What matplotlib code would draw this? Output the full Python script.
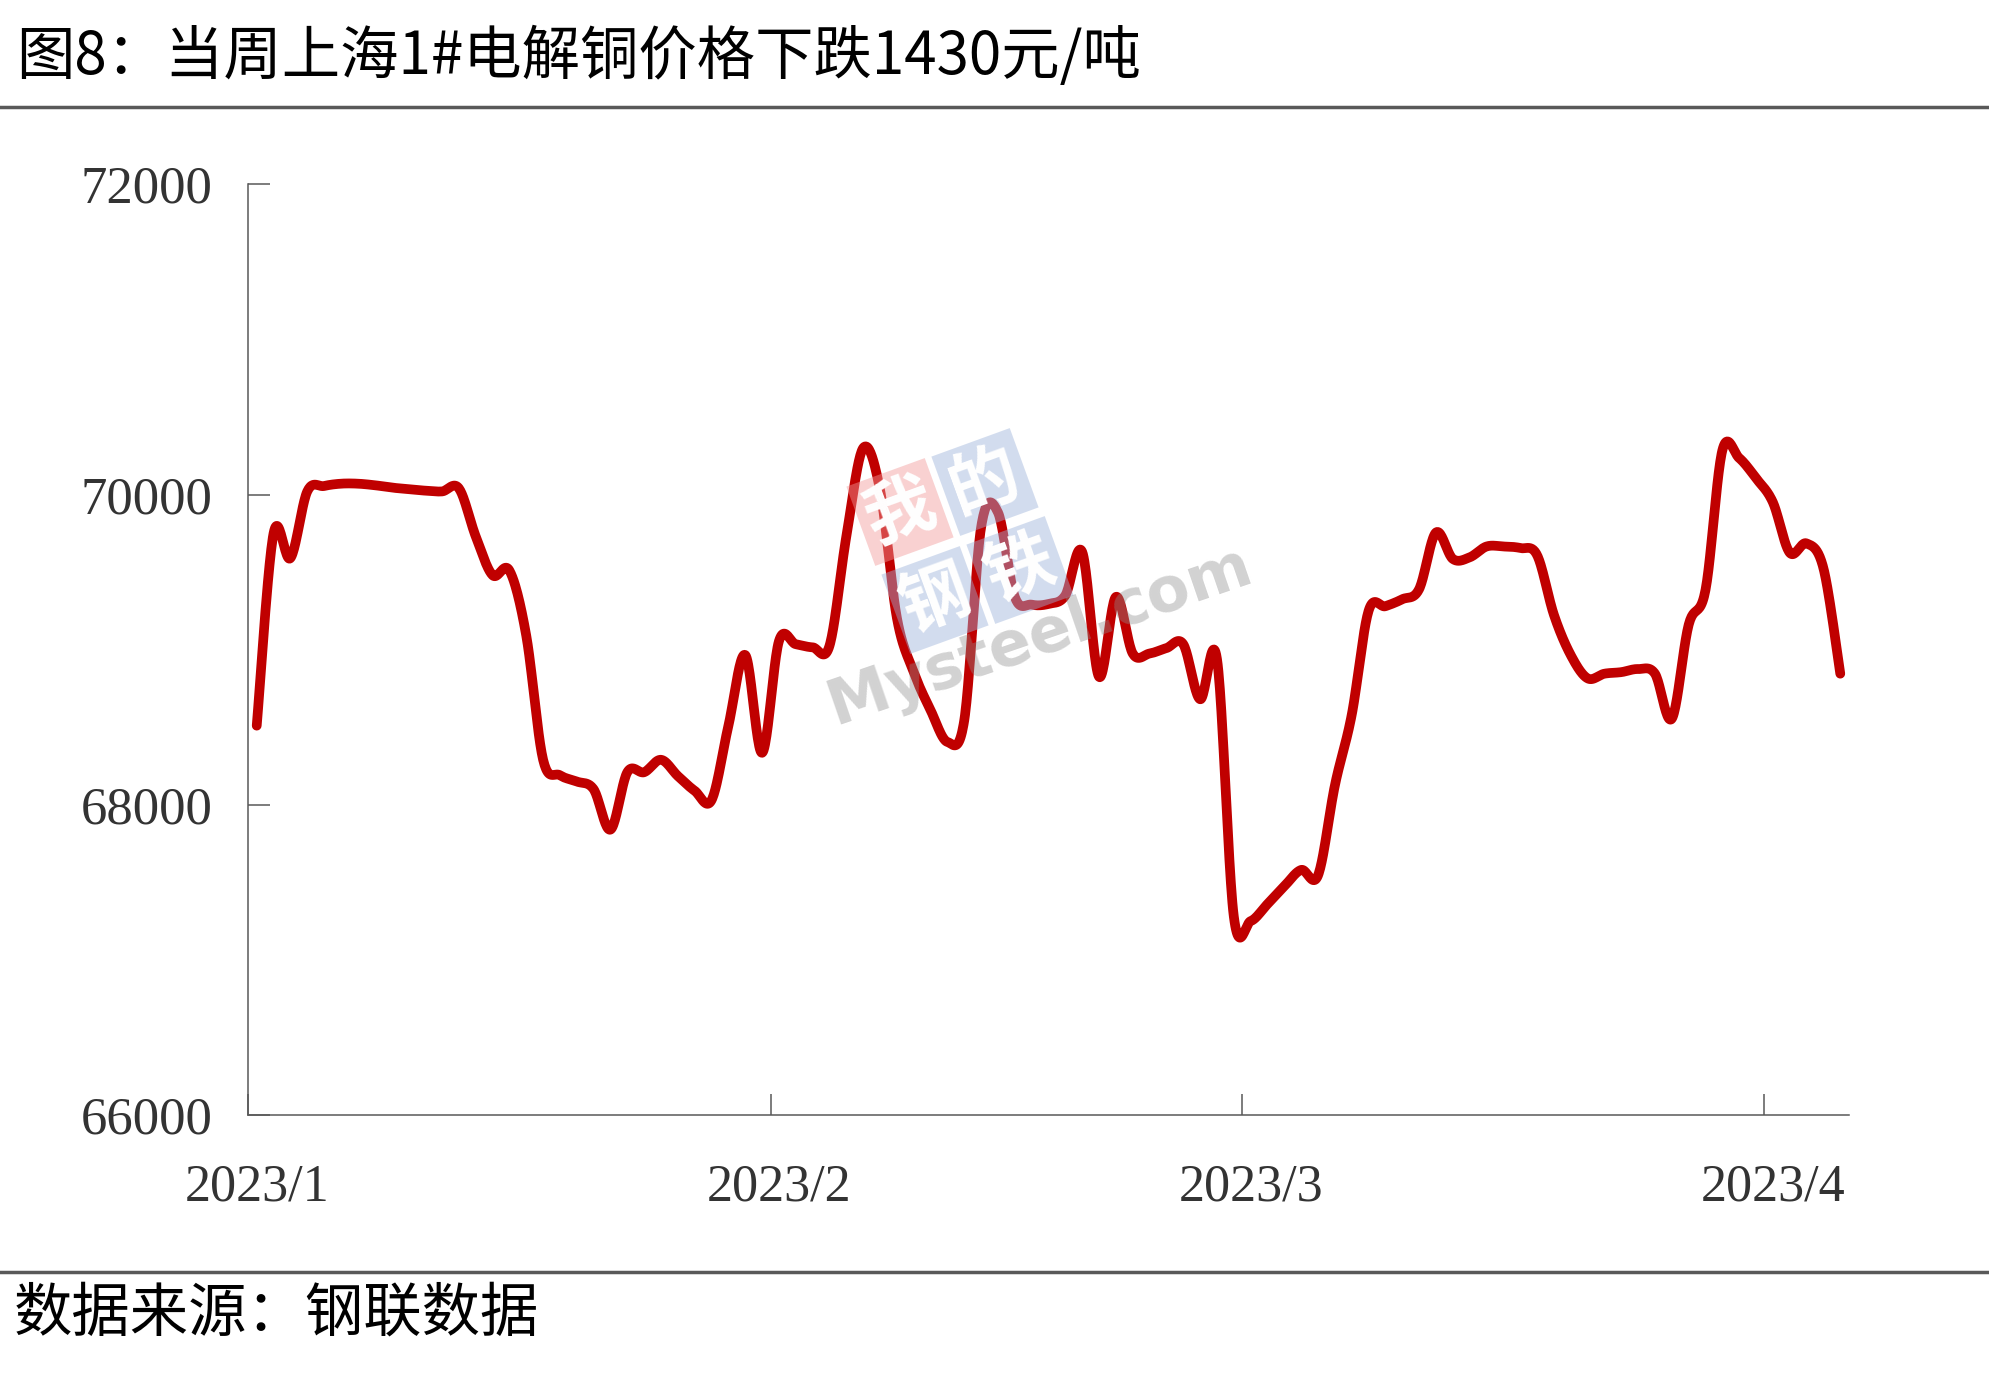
import numpy as np
import pandas as pd
import matplotlib
matplotlib.use("Agg")
import matplotlib.pyplot as plt
import matplotlib.dates as mdates
from matplotlib.lines import Line2D

# ---------------- data ----------------
dates = pd.date_range("2023-01-03", "2023-04-07", freq="D")
prices = [
    68510, 69750, 69590, 70020, 70055, 70070, 70070, 70060, 70045, 70035,
    70025, 70020, 70040, 69730, 69480, 69510, 69090, 68290, 68190, 68150,
    68100, 67840, 68210, 68210, 68290, 68185, 68090, 68030, 68510, 68965,
    68335, 69055, 69035, 69015, 69025, 69730, 70300, 70030, 69205, 68855,
    68610, 68405, 68545, 69790, 69885, 69340, 69290, 69295, 69350, 69630,
    68825, 69340, 68975, 68975, 69010, 69035, 68680, 68940, 67280, 67250,
    67360, 67475, 67580, 67545, 68125, 68580, 69250, 69280, 69325, 69390,
    69755, 69585, 69595, 69665, 69665, 69655, 69610, 69225, 68965, 68815,
    68845, 68855, 68875, 68845, 68555, 69160, 69385, 70285, 70235, 70105,
    69950, 69625, 69685, 69525, 68845,
]
x_ticks = ["2023-01-03", "2023-02-03", "2023-03-03", "2023-04-03"]
x_labels = ["2023/1", "2023/2", "2023/3", "2023/4"]
y_ticks = [66000, 68000, 70000, 72000]
title = "图8：当周上海1#电解铜价格下跌1430元/吨"
source = "数据来源：钢联数据"

# ---------------- figure ----------------
W, H = 1989, 1379
fig = plt.figure(figsize=(W / 100, H / 100), dpi=100)
fig.patch.set_facecolor("white")

L, R, T, B = 248.3, 1848.7, 184.3, 1115.0
ax = fig.add_axes([L / W, 1 - B / H, (R - L) / W, (B - T) / H])

# Excel-like smoothed line (uniform Catmull-Rom through the points)
xd = mdates.date2num(dates) + 0.5
yv = np.asarray(prices, dtype=float)
P = np.column_stack([xd, yv])
Pe = np.vstack([P[0], P, P[-1]])
t = np.linspace(0, 1, 24)[:, None]
segs = []
for i in range(1, len(Pe) - 2):
    p0, p1, p2, p3 = Pe[i - 1], Pe[i], Pe[i + 1], Pe[i + 2]
    c = 0.5 * ((2 * p1) + (-p0 + p2) * t + (2 * p0 - 5 * p1 + 4 * p2 - p3) * t ** 2
               + (-p0 + 3 * p1 - 3 * p2 + p3) * t ** 3)
    segs.append(c if i == 1 else c[1:])
curve = np.vstack(segs)
ax.plot(curve[:, 0], curve[:, 1], color="#C00000", lw=7.0,
        solid_capstyle="round", solid_joinstyle="round", zorder=3)

ax.set_xlim(mdates.date2num(pd.Timestamp("2023-01-03")),
            mdates.date2num(pd.Timestamp("2023-04-08")))
ax.set_ylim(66000, 72000)

for s in ["top", "right"]:
    ax.spines[s].set_visible(False)
for s in ["left", "bottom"]:
    ax.spines[s].set_color("#595959")
    ax.spines[s].set_linewidth(1.1)

serif = ["Liberation Serif", "DejaVu Serif"]
tick_pos = mdates.date2num(pd.to_datetime(x_ticks))
ax.set_xticks(tick_pos)
ax.set_xticklabels([])
ax.set_xticks(tick_pos + 0.5, minor=True)
ax.set_xticklabels(x_labels, minor=True, fontfamily=serif, fontsize=37.5, color="#333333")
ax.tick_params(axis="x", which="major", direction="in", length=15, width=1.1, color="#595959")
ax.tick_params(axis="x", which="minor", length=0, pad=35)

ax.set_yticks(y_ticks)
ax.set_yticklabels([str(v) for v in y_ticks], fontfamily=serif, fontsize=38, color="#333333")
ax.tick_params(axis="y", direction="in", length=16, width=1.1, color="#595959", pad=26)

# ---------------- watermark ----------------
cjk = ["Noto Sans CJK SC", "DejaVu Sans"]
wm = [("我", 900, 512, "#f29a9a"), ("的", 985, 482, "#9db3da"),
      ("钢", 935, 600, "#9db3da"), ("铁", 1020, 570, "#9db3da")]
for ch, px, py, fc in wm:
    fig.text(px / W, 1 - py / H, ch, fontsize=50, fontweight="bold", color="white",
             family=cjk, rotation=20, ha="center", va="center", zorder=10,
             bbox=dict(boxstyle="square,pad=0.1", fc=fc, ec="none", alpha=0.45))
fig.text(1040 / W, 1 - 636 / H, "Mysteel.com", fontsize=45, color="#8f8f8f", alpha=0.4,
         family=["DejaVu Sans"], fontweight="bold", rotation=19, ha="center", va="center",
         zorder=10, rotation_mode="anchor")

# ---------------- title, rules, source ----------------
fig.text(16 / W, 1 - 57.5 / H, title, fontsize=42, family=cjk, color="black",
         ha="left", va="center")
fig.text(14 / W, 1 - 1314 / H, source, fontsize=42, family=cjk, color="black",
         ha="left", va="center")
for yy in (106.5, 1272.0):
    fig.add_artist(Line2D([0, 1], [1 - yy / H, 1 - yy / H], transform=fig.transFigure,
                          color="#595959", lw=2.5))

fig.savefig("out.png", dpi=100, facecolor="white")
